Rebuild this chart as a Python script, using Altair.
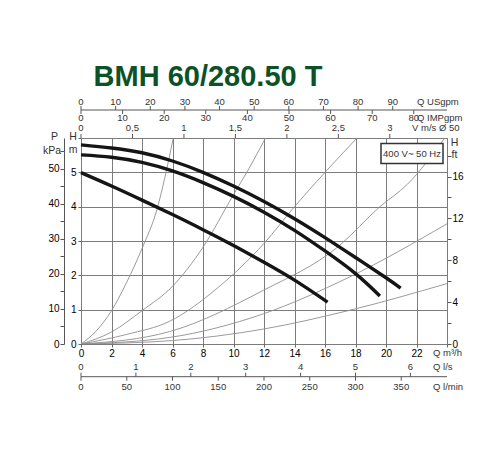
import altair as alt
import pandas as pd

TITLE = "BMH 60/280.50 T"
RATING = "400 V~ 50 Hz"

# Pump performance curves (Q in m3/h, H in m)
PUMP_MAX_Q = [0, 2, 4, 6, 8, 10, 12, 14, 16, 18, 20, 20.96]
PUMP_MAX_H = [5.80, 5.71, 5.57, 5.33, 5.00, 4.60, 4.15, 3.65, 3.10, 2.52, 1.93, 1.63]
PUMP_MID_Q = [0, 2, 4, 6, 8, 10, 12, 14, 16, 18, 19.6]
PUMP_MID_H = [5.51, 5.44, 5.29, 5.04, 4.70, 4.30, 3.84, 3.31, 2.71, 2.05, 1.40]
PUMP_MIN_Q = [0, 2, 4, 6, 8, 10, 12, 14, 16.17]
PUMP_MIN_H = [4.99, 4.60, 4.19, 3.77, 3.33, 2.87, 2.38, 1.86, 1.22]

# System curves (thin grey)
SYS1_Q = [0, 1, 2, 3, 4, 5, 5.5, 6.05]
SYS1_H = [0, 0.38, 0.97, 1.80, 2.78, 3.95, 4.85, 6.0]
SYS2_Q = [0, 2, 4, 6, 8, 10, 11, 12.1]
SYS2_H = [0, 0.35, 0.97, 1.68, 2.82, 4.35, 5.10, 6.0]
SYS3_Q = [0, 3, 5.8, 9, 12, 14, 16, 18.1]
SYS3_H = [0, 0.28, 0.66, 1.65, 2.93, 4.00, 5.00, 6.0]
SYS4_Q = [0, 5.8, 11.9, 16.9, 19.6, 21.4, 23.85]
SYS4_H = [0, 0.36, 1.55, 2.85, 4.00, 4.65, 6.0]
SYS5_Q = [0, 5.8, 11.9, 17.6, 24]
SYS5_H = [0, 0.19, 0.87, 1.95, 3.50]
SYS6_Q = [0, 6, 11.9, 17.6, 24]
SYS6_H = [0, 0.10, 0.43, 0.98, 1.76]

# Axis ticks
M3H_TICKS = list(range(0, 25, 2))
H_TICKS = [i * 0.5 for i in range(13)]
FT_TICKS = list(range(0, 20, 2))
KPA_TICKS = list(range(0, 60, 5))
USGPM_TICKS = list(range(0, 100, 10))
IMPGPM_TICKS = list(range(0, 90, 10))
VEL_TICKS = [0, 0.5, 1, 1.5, 2, 2.5, 3]
VEL_LABELS = ["0", "0,5", "1", "1,5", "2", "2,5", "3"]
LS_TICKS = [0, 1, 2, 3, 4, 5, 6]
LMIN_TICKS = [0, 50, 100, 150, 200, 250, 300, 350]

# unit conversions
USGPM_PER_M3H = 4.403
IMPGPM_PER_M3H = 3.666
M3H_PER_MS = 6.75
M3H_PER_LS = 3.6
M3H_PER_LMIN = 0.06
FT_PER_M = 3.2808
KPA_PER_M = 9.80665

W, HH = 366, 206
FONT = "Liberation Sans"
TXT = "#333333"
GRID = "#7c7c7c"

xscale = alt.Scale(domain=[0, 24], nice=False, zero=False)
hscale = alt.Scale(domain=[0, 6], nice=False, zero=False)
X_AXIS = alt.Axis(values=M3H_TICKS, grid=True, gridColor=GRID, gridWidth=1, format="d",
                  labelExpr="datum.value == 24 ? '' : datum.label", labelFlush=False,
                  tickSize=3, labelPadding=1, domain=False, tickColor="#666")
H_AXIS = alt.Axis(values=H_TICKS, grid=True, gridColor=GRID, gridWidth=1, orient="left",
                  format="d", labelFlush=False,
                  labelExpr="(datum.value % 1 == 0 && datum.value < 6) ? datum.label : ''",
                  tickSize=3, labelPadding=2, domain=False, tickColor="#666")


def X(field):
    return alt.X(field, scale=xscale, title=None, axis=X_AXIS)


def long_df(pairs):
    rows = []
    for name, qs, hs in pairs:
        for i, (q, h) in enumerate(zip(qs, hs)):
            rows.append({"curve": name, "Q": q, "H": h, "i": i})
    return pd.DataFrame(rows)


pump_df = long_df([("max", PUMP_MAX_Q, PUMP_MAX_H), ("mid", PUMP_MID_Q, PUMP_MID_H),
                   ("min", PUMP_MIN_Q, PUMP_MIN_H)])
sys_df = long_df([("s1", SYS1_Q, SYS1_H), ("s2", SYS2_Q, SYS2_H), ("s3", SYS3_Q, SYS3_H),
                  ("s4", SYS4_Q, SYS4_H), ("s5", SYS5_Q, SYS5_H), ("s6", SYS6_Q, SYS6_H)])

sys_lines = alt.Chart(sys_df).mark_line(color="#8f8f8f", strokeWidth=0.9,
                                        interpolate="monotone", clip=True).encode(
    x=X("Q:Q"),
    y=alt.Y("H:Q", scale=hscale, title=None, axis=H_AXIS),
    detail="curve:N", order="i:Q")

pump_lines = alt.Chart(pump_df).mark_line(color="#151515", strokeWidth=3.4,
                                          interpolate="natural", strokeCap="butt").encode(
    x=X("Q:Q"),
    y=alt.Y("H:Q", scale=hscale, title=None, axis=H_AXIS),
    detail="curve:N", order="i:Q")

main = alt.layer(sys_lines, pump_lines)

ft_layer = alt.Chart(pd.DataFrame({"ft": [0, 6 * FT_PER_M]})).mark_point(opacity=0).encode(
    y=alt.Y("ft:Q", scale=alt.Scale(domain=[0, 6 * FT_PER_M], nice=False, zero=False), title=None,
            axis=alt.Axis(orient="right", values=FT_TICKS, grid=False, tickSize=4, labelPadding=1,
                          labelFlush=False,
                          labelExpr="datum.value % 4 == 0 ? datum.label : ''",
                          domain=True, domainColor=GRID, tickColor="#555")))

kpa_layer = alt.Chart(pd.DataFrame({"kpa": [0, 6 * KPA_PER_M]})).mark_point(opacity=0).encode(
    y=alt.Y("kpa:Q", scale=alt.Scale(domain=[0, 6 * KPA_PER_M], nice=False, zero=False), title=None,
            axis=alt.Axis(orient="left", offset=17, values=KPA_TICKS, grid=False, tickSize=4,
                          labelPadding=1, labelFlush=False,
                          labelExpr="datum.value % 10 == 0 ? datum.label : ''",
                          domain=True, domainColor="#555", tickColor="#555")))


def tick_row(values, factor, labels, y_lab, y_t0, y_t1, divide=True):
    qs = [v / factor if divide else v * factor for v in values]
    df = pd.DataFrame({"q": qs, "lab": labels})
    t = alt.Chart(df).mark_text(font=FONT, fontSize=9.5, color=TXT, baseline="middle").encode(
        x=X("q:Q"), y=alt.value(y_lab), text="lab:N")
    r = alt.Chart(df).mark_rule(color="#555", strokeWidth=1).encode(
        x=X("q:Q"), y=alt.value(y_t0), y2=alt.value(y_t1))
    return [t, r]


one = pd.DataFrame({"a": [0]})


def hline(y):
    return alt.Chart(one).mark_rule(color="#555", strokeWidth=1).encode(
        x=alt.value(0), x2=alt.value(W), y=alt.value(y))


def label(txt, x, y, align="left", size=9.5, color=TXT, **kw):
    return alt.Chart(one).mark_text(text=txt, font=FONT, fontSize=size, color=color,
                                    align=align, baseline="middle", **kw).encode(
        x=alt.value(x), y=alt.value(y))


layers = [main]
layers += tick_row(USGPM_TICKS, USGPM_PER_M3H, [str(v) for v in USGPM_TICKS], -36, -32, -28)
layers += tick_row(IMPGPM_TICKS, IMPGPM_PER_M3H, [str(v) for v in IMPGPM_TICKS], -20, -28, -24)
layers += tick_row(VEL_TICKS, M3H_PER_MS, VEL_LABELS, -10, -4, 0, divide=False)
layers += tick_row(LS_TICKS, M3H_PER_LS, [str(v) for v in LS_TICKS], 229, 234.7, 238.7, divide=False)
layers += tick_row(LMIN_TICKS, M3H_PER_LMIN, [str(v) for v in LMIN_TICKS], 248.7, 238.7, 242.7, divide=False)
layers += [hline(-28), hline(238.7)]

box = alt.Chart(one).mark_rect(fill="white", stroke="#333", strokeWidth=1.5).encode(
    x=alt.value(300), x2=alt.value(362), y=alt.value(5.5), y2=alt.value(25.5))
layers += [box, label(RATING, 331, 15.5, align="center", size=9.5)]

layers += [
    label("Q USgpm", 336, -36),
    label("Q IMPgpm", 336, -20),
    label("V m/s \u00d8 50", 331, -10),
    label("Q m\u00b3/h", 352, 214.5),
    label("Q l/s", 352, 229),
    label("Q l/min", 352, 248.7),
    label("H", -8, -1, align="center", size=10.5),
    label("m", -8, 12, align="center", size=10.5),
    label("P", -26.5, -1, align="center", size=10.5),
    label("kPa", -29, 12.5, align="center", size=10.5),
    label("H", 373.5, 5, align="center", size=10.5),
    label("ft", 373.5, 17, align="center", size=10.5),
    label(TITLE, 127, -61.5, align="center", size=29, color="#0c5226", fontWeight="bold"),
]

layers += [ft_layer, kpa_layer]

chart = alt.layer(*layers).resolve_scale(y="independent").properties(
    width=W, height=HH,
    autosize=alt.AutoSizeParams(type="none"),
    padding={"left": 73, "top": 130, "right": 45, "bottom": 60},
).configure_view(stroke=GRID, strokeWidth=1).configure_axis(
    labelFont=FONT, labelFontSize=9.5, labelColor=TXT
).configure(background="white")

chart.save("out.html", embed_options={"renderer": "svg", "actions": False})
